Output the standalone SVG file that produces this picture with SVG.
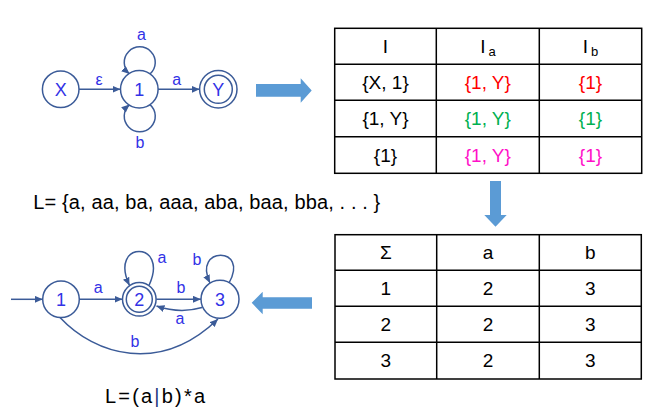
<svg xmlns="http://www.w3.org/2000/svg" width="662" height="416" viewBox="0 0 662 416">
<style>
.edge{fill:none;stroke:#3B5B98;stroke-width:1.5}
.node{fill:#fff;stroke:#3B5B98;stroke-width:1.5}
.nl{font-family:"Liberation Sans",Arial,sans-serif;font-size:18px;fill:#3232E6;text-anchor:middle}
.el{font-family:"Liberation Sans",Arial,sans-serif;font-size:16px;fill:#3232E6;text-anchor:middle}
.grid{stroke:#000;stroke-width:1.5;fill:none}
.tt{font-family:"Liberation Sans",Arial,sans-serif;font-size:19px;fill:#000;text-anchor:middle}
.red{fill:#FF0000}.grn{fill:#00B050}.mag{fill:#FF10C8}
.big{fill:#5B9BD5}
.lang{font-family:"Liberation Sans",Arial,sans-serif;font-size:20px;fill:#000}
</style>
<defs>
<marker id="ah" markerUnits="userSpaceOnUse" markerWidth="8" markerHeight="7" refX="8" refY="3.5" orient="auto">
<path d="M0,0 L8,3.5 L0,7 z" fill="#3B5B98"/>
</marker>
</defs>

<g id="connectors">
<path class="edge" d="M79 89.3 L120.5 89.3" marker-end="url(#ah)"/>
<path class="edge" d="M158 89.3 L199.6 89.3" marker-end="url(#ah)"/>
<path class="edge" d="M150 74 A15.5 15.5 0 1 0 129.5 74" marker-end="url(#ah)"/>
<path class="edge" d="M150 104.6 A15.5 15.5 0 1 1 129.5 104.6" marker-end="url(#ah)"/>
<path class="edge" d="M11 299.3 L42.7 299.3" marker-end="url(#ah)"/>
<path class="edge" d="M79.3 299.3 L122.5 299.3" marker-end="url(#ah)"/>
<path class="edge" d="M156.3 299.3 L201 299.3" marker-end="url(#ah)"/>
<path class="edge" d="M202 307.5 Q180 314 156.5 306" marker-end="url(#ah)"/>
<path class="edge" d="M149 285.5 C170 240, 108 240, 129.5 285.5" marker-end="url(#ah)"/>
<path class="edge" d="M229 283 C250 246, 192 246, 210 283" marker-end="url(#ah)"/>
<path class="edge" d="M60 317.5 C95 355, 160 375, 218 319" marker-end="url(#ah)"/>
</g>

<g id="edge-labels">
<text class="el" x="99" y="85">ε</text>
<text class="el" x="176.7" y="85">a</text>
<text class="el" x="141.5" y="40">a</text>
<text class="el" x="140" y="148">b</text>
<text class="el" x="98.3" y="293">a</text>
<text class="el" x="181" y="293">b</text>
<text class="el" x="180" y="324">a</text>
<text class="el" x="135" y="347">b</text>
<text class="el" x="162" y="263">a</text>
<text class="el" x="197" y="265">b</text>
</g>

<g id="nX"><circle class="node" cx="60.7" cy="89.3" r="18.3"/><text class="nl" x="60.7" y="95.7">X</text></g>
<g id="n1"><circle class="node" cx="139.3" cy="89.3" r="18.8"/><text class="nl" x="139.3" y="95.7">1</text></g>
<g id="nY"><circle class="node" cx="218.3" cy="89.3" r="18.7"/><circle class="node" cx="218.3" cy="89.3" r="14"/><text class="nl" x="218.3" y="95.7">Y</text></g>

<g id="d1"><circle class="node" cx="61" cy="299.3" r="18.3"/><text class="nl" x="61" y="305.7">1</text></g>
<g id="d2"><circle class="node" cx="139.3" cy="299.3" r="16.8"/><circle class="node" cx="139.3" cy="299.3" r="13"/><text class="nl" x="139.3" y="305.7">2</text></g>
<g id="d3"><circle class="node" cx="220" cy="299.3" r="19"/><text class="nl" x="220" y="305.7">3</text></g>

<g id="arrows">
<polygon class="big" points="256,84 300.7,84 300.7,78.3 311.7,90.5 300.7,102.7 300.7,96.7 256,96.7"/>
<polygon class="big" points="490,181 501,181 501,215 506.7,215 495.5,226.7 484.3,215 490,215"/>
<polygon class="big" points="312,297.3 262.7,297.3 262.7,291.7 251.7,302.7 262.7,314.3 262.7,308.7 312,308.7"/>
</g>

<g id="table1">
<rect class="grid" x="334.7" y="28.3" width="307" height="145"/>
<path class="grid" d="M436.3 28.3V173.3M539.3 28.3V173.3M334.7 64.3H641.7M334.7 100.3H641.7M334.7 136.7H641.7"/>
<text class="tt" x="385.5" y="53">I</text>
<text class="tt" x="488" y="53">I<tspan font-size="13" dx="3" dy="3">a</tspan></text>
<text class="tt" x="590.5" y="53">I<tspan font-size="13" dx="3" dy="3">b</tspan></text>
<text class="tt" x="385.5" y="89">{X, 1}</text>
<text class="tt red" x="487.8" y="89">{1, Y}</text>
<text class="tt red" x="590.5" y="89">{1}</text>
<text class="tt" x="385.5" y="125">{1, Y}</text>
<text class="tt grn" x="487.8" y="125">{1, Y}</text>
<text class="tt grn" x="590.5" y="125">{1}</text>
<text class="tt" x="385.5" y="161.5">{1}</text>
<text class="tt mag" x="487.8" y="161.5">{1, Y}</text>
<text class="tt mag" x="590.5" y="161.5">{1}</text>
</g>

<g id="table2">
<rect class="grid" x="335" y="234.7" width="306.3" height="144.3"/>
<path class="grid" d="M436.7 234.7V379M539.3 234.7V379M335 270.3H641.3M335 306.3H641.3M335 342.3H641.3"/>
<text class="tt" x="385.8" y="259">Σ</text>
<text class="tt" x="488" y="259">a</text>
<text class="tt" x="590.3" y="259">b</text>
<text class="tt" x="385.8" y="295">1</text>
<text class="tt" x="488" y="295">2</text>
<text class="tt" x="590.3" y="295">3</text>
<text class="tt" x="385.8" y="331">2</text>
<text class="tt" x="488" y="331">2</text>
<text class="tt" x="590.3" y="331">3</text>
<text class="tt" x="385.8" y="367">3</text>
<text class="tt" x="488" y="367">2</text>
<text class="tt" x="590.3" y="367">3</text>
</g>

<g id="languages">
<text class="lang" x="33.3" y="209" textLength="347" lengthAdjust="spacing">L= {a, aa, ba, aaa, aba, baa, bba, . . . }</text>
<text class="lang" x="105" y="403" textLength="100" lengthAdjust="spacing">L=(a<tspan fill="#1F3A80">|</tspan>b)*a</text>
</g>
</svg>
